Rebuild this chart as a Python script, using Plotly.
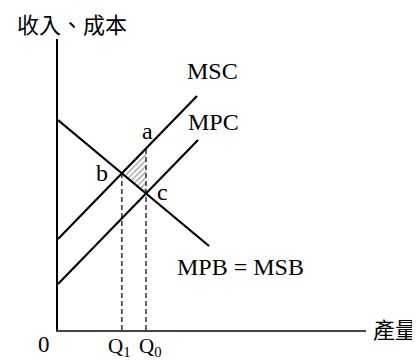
import numpy as np
import plotly.graph_objects as go

# curve end points (quantity, price)
mpb_x = [0, 151]
mpb_y = [210, 84]
msc_x = [0, 139]
msc_y = [91, 234]
mpc_x = [0, 140]
mpc_y = [46, 190]

x_max = 308
y_max = 291


def line(xs, ys):
    k = (ys[1] - ys[0]) / (xs[1] - xs[0])
    return k, ys[0] - k * xs[0]


def cross(l1, l2):
    x = (l2[1] - l1[1]) / (l1[0] - l2[0])
    return x, l1[0] * x + l1[1]


mpb = line(mpb_x, mpb_y)
msc = line(msc_x, msc_y)
mpc = line(mpc_x, mpc_y)
q1, pb = cross(msc, mpb)   # point b
q0, pc = cross(mpc, mpb)   # point c
pa = msc[0] * q0 + msc[1]  # point a

fig = go.Figure()
# hatched deadweight triangle a-b-c
fig.add_trace(go.Scatter(x=[q1, q0, q0, q1], y=[pb, pa, pc, pb], mode="lines",
                         line=dict(width=0), fill="toself", fillcolor="white",
                         fillpattern=dict(shape="/", fgcolor="#333", bgcolor="white",
                                          size=4, solidity=0.3)))
dash = dict(color="black", width=1.2, dash="5px,3px")
fig.add_trace(go.Scatter(x=[q1, q1], y=[0, pb], mode="lines", line=dash))
fig.add_trace(go.Scatter(x=[q0, q0], y=[0, pa], mode="lines", line=dash))
solid = dict(color="black", width=2.2)
for xs, ys in [(mpb_x, mpb_y), (msc_x, msc_y), (mpc_x, mpc_y)]:
    fig.add_trace(go.Scatter(x=xs, y=ys, mode="lines", line=solid))

serif = "Liberation Serif"
cjk = "Noto Sans CJK TC"


def note(text, x, y, family, size):
    # positions given in axis units; paper refs so labels outside the axes still show
    fig.add_annotation(x=x / x_max, y=y / y_max, xref="paper", yref="paper",
                       xanchor="center", yanchor="middle",
                       text=text, showarrow=False,
                       font=dict(family=family, size=size, color="black"))


note("MSC", 154, 259, serif, 24)
note("MPC", 155, 208, serif, 24)
note("a", 89, 199, serif, 24)
note("b", 44, 157, serif, 24)
note("c", 104, 138, serif, 24)
note("MPB = MSB", 183, 63, serif, 24)
note("0", -14, -14, serif, 23)
# Q labels sit a little apart from their dashed lines
note("Q<sub>1</sub>", q1 - 2.5, -17, serif, 21)
note("Q<sub>0</sub>", q0 + 4, -17, serif, 21)
note("收入、成本", 14, 307, cjk, 22)
note("產量", 337, 2, cjk, 22)

# page body adds an 8px margin, so the figure is 8px smaller on each side
fig.update_layout(
    width=412, height=353, margin=dict(l=50, r=54, t=31, b=31),
    plot_bgcolor="white", paper_bgcolor="white", showlegend=False,
    xaxis=dict(range=[0, x_max], showgrid=False, zeroline=False, showline=True,
               linecolor="#444", linewidth=1.5, showticklabels=False, ticks="",
               automargin=False),
    yaxis=dict(range=[0, y_max], showgrid=False, zeroline=False, showline=True,
               automargin=False, linecolor="black", linewidth=1.5,
               showticklabels=False, ticks=""),
)
fig.write_html("out.html")
